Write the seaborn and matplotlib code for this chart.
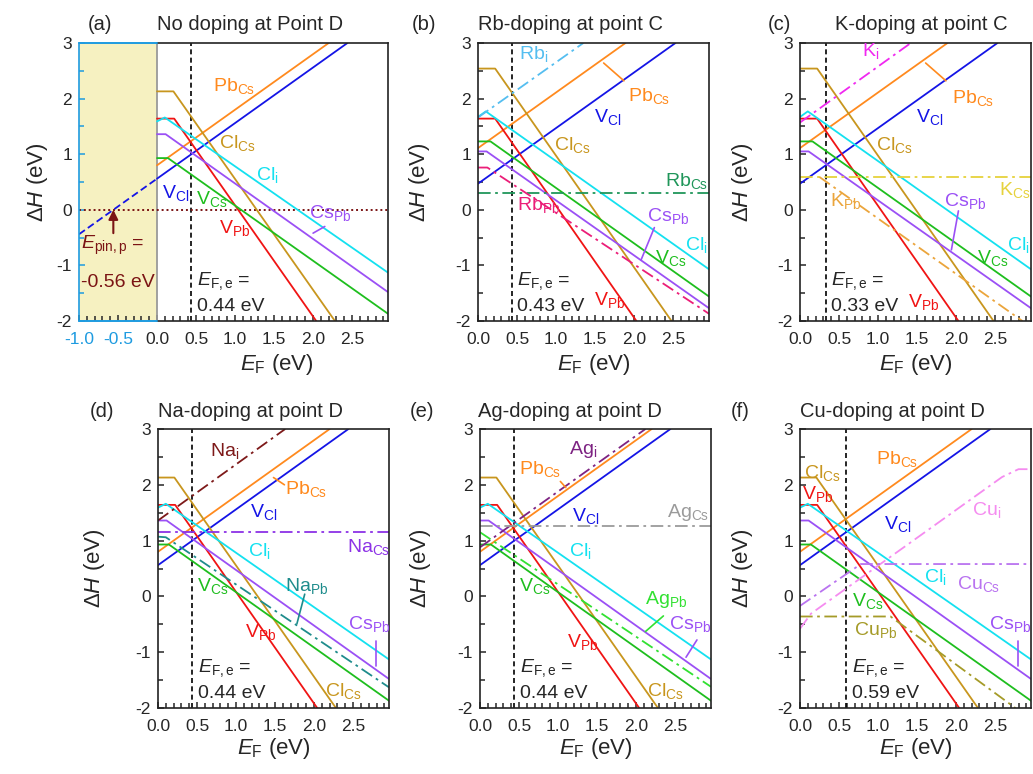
import numpy as np
import seaborn as sns
import matplotlib.pyplot as plt
from matplotlib.ticker import MultipleLocator, FormatStrFormatter

# ---- values: (E_F breakpoints, ΔH) in eV ----
GAP = 2.96

# intrinsic defects, chemical potential point D  (panels a, d, e, f)
D_VCl = ([0, 2.44], [0.56, 3.0])
D_PbCs = ([0, 2.20], [0.80, 3.0])
D_ClCs = ([0, 0.21, 2.28], [2.13, 2.13, -2.0])
D_VPb = ([0, 0.22, 2.04], [1.64, 1.64, -2.0])
D_Cli = ([0, 0.10, 2.96], [1.59, 1.66, -1.13])
D_CsPb = ([0, 0.11, 2.96], [1.36, 1.36, -1.48])
D_VCs = ([0, 0.14, 2.96], [0.93, 0.93, -1.87])
D_VCl_neg = ([-1.0, 0], [-0.44, 0.56])   # extrapolation into the VB

# intrinsic defects, chemical potential point C  (panels b, c)
C_VCl = ([0, 2.53], [0.47, 3.0])
C_PbCs = ([0, 1.89], [1.11, 3.0])
C_ClCs = ([0, 0.22, 2.48], [2.54, 2.54, -2.0])
C_VPb = ([0, 0.22, 2.03], [1.64, 1.64, -2.0])
C_Cli = ([0, 0.10, 2.96], [1.67, 1.77, -1.07])
C_CsPb = ([0, 0.11, 2.96], [1.05, 1.05, -1.77])
C_VCs = ([0, 0.16, 2.96], [1.23, 1.23, -1.56])

# dopants
Rb_i = ([0, 1.35], [1.66, 3.0])
Rb_Cs = ([0, 2.96], [0.31, 0.31])
Rb_Pb = ([0, 0.12, 2.96], [0.76, 0.76, -1.87])
K_i = ([0, 1.42], [1.57, 3.0])
K_Cs = ([0, 2.96], [0.59, 0.59])
K_Pb = ([0.25, 2.85], [0.59, -2.0])
Na_i = ([0, 1.63], [1.36, 3.0])
Na_Cs = ([0, 2.96], [1.16, 1.16])
Na_Pb = ([0, 0.10, 2.96], [1.07, 1.06, -1.63])
Ag_i = ([0, 2.12], [0.88, 3.0])
Ag_Cs = ([0, 2.96], [1.27, 1.27])
Ag_Pb = ([0, 2.96], [1.15, -1.62])
Cu_i = ([0, 0.14, 2.59, 2.80, 2.96], [-0.58, -0.31, 2.14, 2.28, 2.28])
Cu_Cs = ([0, 0.78, 2.96], [-0.17, 0.58, 0.58])
Cu_Pb = ([0, 1.16, 2.76], [-0.36, -0.36, -2.0])

# equilibrium Fermi levels and pinning level
EF_E = {'a': 0.44, 'b': 0.43, 'c': 0.33, 'd': 0.44, 'e': 0.44, 'f': 0.59}
E_PIN = -0.56

# ---- style ----
COL = {
    'VCl': '#1414E6', 'PbCs': '#FF8A1E', 'ClCs': '#C8961E', 'VPb': '#F01414',
    'Cli': '#14E1F0', 'CsPb': '#9B50F5', 'VCs': '#1EBE1E',
    'Rbi': '#55BEF0', 'RbCs': '#20965A', 'RbPb': '#EB1E78',
    'Ki': '#F028F0', 'KCs': '#E6D23C', 'KPb': '#EBA53C',
    'Nai': '#7D1919', 'NaCs': '#8C32E6', 'NaPb': '#1E8C8C',
    'Agi': '#7D2382', 'AgCs': '#9B9B9B', 'AgPb': '#32E132',
    'Cui': '#F58CF0', 'CuCs': '#B973F0', 'CuPb': '#A59B28',
}
BLUE = '#1E9BE0'
MAROON = '#7B1414'
LW = 1.3
DD = (0, (7, 2.5, 1.5, 2.5))  # dash-dot

sns.set_style('ticks')
plt.rcParams['font.family'] = ['Liberation Sans', 'DejaVu Sans']
plt.rcParams['mathtext.fontset'] = 'custom'
plt.rcParams['mathtext.rm'] = 'Liberation Sans'
plt.rcParams['mathtext.it'] = 'Liberation Sans:italic'
plt.rcParams['mathtext.default'] = 'regular'
plt.rcParams['axes.unicode_minus'] = False
plt.rcParams['axes.edgecolor'] = '#222222'
plt.rcParams['axes.linewidth'] = 1.2

W, H = 1033, 774
fig = plt.figure(figsize=(W / 100, H / 100), dpi=100)


def box(left, right, top, bottom):
    return [left / W, 1 - bottom / H, (right - left) / W, (bottom - top) / H]


def draw(ax, pts, key, ls='-'):
    sns.lineplot(x=pts[0], y=pts[1], ax=ax, color=COL[key], lw=LW, linestyle=ls,
                 sort=False, estimator=None, legend=False)


def lab(ax, txt, x, y, key, size=14):
    ax.text(x, y, txt, color=COL[key], fontsize=size, va='baseline', ha='left')


def leader(ax, xs, ys, key):
    ax.plot(xs, ys, color=COL[key], lw=1.2)


def setup(ax, xmin, ef, ylab_x, xlab_x, ytop):
    ax.set_xlim(xmin, GAP)
    ax.set_ylim(-2, 3)
    ax.set_xticks(np.arange(xmin, 2.51, 0.5))
    ax.set_xticks(np.arange(xmin, GAP, 0.1), minor=True)
    ax.xaxis.set_major_formatter(FormatStrFormatter('%.1f'))
    ax.yaxis.set_major_locator(MultipleLocator(1))
    ax.yaxis.set_minor_locator(MultipleLocator(0.5))
    ax.tick_params(which='both', direction='in', labelsize=12.5, width=1.1)
    ax.tick_params(axis='x', which='both', pad=8)
    ax.tick_params(axis='y', which='both', pad=5)
    ax.tick_params(which='major', length=4.5)
    ax.tick_params(which='minor', length=3.5)
    ax.set_xlabel(r'$\mathit{E}_{F}$ (eV)', fontsize=16)
    ax.set_ylabel(r'Δ$\mathit{H}$ (eV)', fontsize=16)
    ax.yaxis.set_label_coords(ylab_x, 0.5)
    ax.xaxis.set_label_coords(xlab_x, ytop)
    ax.axvline(ef, color='k', ls=(0, (3, 2)), lw=1.2, zorder=1.5)
    ax.text(ef + 0.07, -1.35, r'$\mathit{E}_{F,e}$ =', fontsize=14, va='baseline')
    ax.text(ef + 0.07, -1.82, f'{ef:.2f} eV', fontsize=14, va='baseline')


def titles(tag, tag_x, title, title_x, base_y):
    fig.text(tag_x / W, 1 - base_y / H, tag, fontsize=14.5, va='baseline')
    fig.text(title_x / W, 1 - base_y / H, title, fontsize=14.5, va='baseline')


# ---------- (a) ----------
ax = fig.add_axes(box(79, 388, 43, 321))
ax.axvspan(-1, 0, color='#F6F1C1', lw=0, zorder=0)
setup(ax, -1.0, EF_E['a'], -0.094, 0.64, -0.11)
ax.axvline(0, color='#9A9A9A', lw=1.3, zorder=1)
ax.axhline(0, color=MAROON, ls=(0, (1, 1.5)), lw=1.4, zorder=1.6)
draw(ax, D_VCl_neg, 'VCl', (0, (4, 2)))
for pts, key in [(D_VCl, 'VCl'), (D_PbCs, 'PbCs'), (D_ClCs, 'ClCs'), (D_VPb, 'VPb'),
                 (D_Cli, 'Cli'), (D_CsPb, 'CsPb'), (D_VCs, 'VCs')]:
    draw(ax, pts, key)
ax.annotate('', xy=(E_PIN, 0.0), xytext=(E_PIN, -0.42),
            arrowprops=dict(arrowstyle='-|>', color=MAROON, lw=1.5, mutation_scale=14,
                            shrinkA=0, shrinkB=0))
ax.text(-0.97, -0.70, r'$\mathit{E}_{pin,p}$ =', color=MAROON, fontsize=14, va='baseline')
ax.text(-0.97, -1.38, f'{E_PIN:.2f} eV', color=MAROON, fontsize=14, va='baseline')
ax.spines['left'].set_color(BLUE)
ax.spines['top'].set_bounds(0, GAP)
ax.spines['bottom'].set_bounds(0, GAP)
for yy in (3, -2):
    ax.axhline(yy, xmin=0, xmax=1 / (GAP + 1), color=BLUE, lw=1.4, clip_on=False, zorder=3)
ax.tick_params(axis='y', which='both', color=BLUE)
fig.canvas.draw()
for t, loc in zip(ax.xaxis.get_major_ticks(), ax.get_xticks()):
    if loc < -1e-6:
        t.label1.set_color(BLUE)
        t.tick1line.set_color(BLUE)
for t, loc in zip(ax.xaxis.get_minor_ticks(), ax.get_xticks(minor=True)):
    if loc < -1e-6:
        t.tick1line.set_color(BLUE)
for txt, x, y, k in [('Pb$_{Cs}$', 0.72, 2.13, 'PbCs'), ('Cl$_{Cs}$', 0.80, 1.11, 'ClCs'),
                     ('Cl$_i$', 1.27, 0.54, 'Cli'), ('V$_{Cl}$', 0.06, 0.21, 'VCl'),
                     ('V$_{Cs}$', 0.50, 0.10, 'VCs'), ('V$_{Pb}$', 0.79, -0.42, 'VPb'),
                     ('Cs$_{Pb}$', 1.95, -0.15, 'CsPb')]:
    lab(ax, txt, x, y, k)
leader(ax, [2.0, 2.15], [-0.42, -0.30], 'CsPb')
titles('(a)', 88, 'No doping at Point D', 157, 30)

# ---------- (b) ----------
ax = fig.add_axes(box(478, 709, 43, 321))
setup(ax, 0.0, EF_E['b'], -0.199, 0.5, -0.11)
for pts, key in [(C_VCl, 'VCl'), (C_PbCs, 'PbCs'), (C_ClCs, 'ClCs'), (C_VPb, 'VPb'),
                 (C_Cli, 'Cli'), (C_CsPb, 'CsPb'), (C_VCs, 'VCs')]:
    draw(ax, pts, key)
draw(ax, Rb_i, 'Rbi', DD)
draw(ax, Rb_Cs, 'RbCs', DD)
draw(ax, Rb_Pb, 'RbPb', DD)
for txt, x, y, k in [('Rb$_i$', 0.53, 2.72, 'Rbi'), ('Pb$_{Cs}$', 1.92, 1.95, 'PbCs'),
                     ('V$_{Cl}$', 1.49, 1.58, 'VCl'), ('Cl$_{Cs}$', 0.97, 1.07, 'ClCs'),
                     ('Rb$_{Cs}$', 2.40, 0.42, 'RbCs'), ('Rb$_{Pb}$', 0.50, 0.0, 'RbPb'),
                     ('Cs$_{Pb}$', 2.17, -0.21, 'CsPb'), ('Cl$_i$', 2.65, -0.72, 'Cli'),
                     ('V$_{Cs}$', 2.27, -0.95, 'VCs'), ('V$_{Pb}$', 1.49, -1.71, 'VPb')]:
    lab(ax, txt, x, y, k)
leader(ax, [1.61, 1.87], [2.64, 2.32], 'PbCs')
leader(ax, [2.26, 2.09], [-0.32, -0.90], 'CsPb')
titles('(b)', 412, 'Rb-doping at point C', 478, 30)

# ---------- (c) ----------
ax = fig.add_axes(box(800, 1031, 43, 321))
setup(ax, 0.0, EF_E['c'], -0.195, 0.5, -0.11)
for pts, key in [(C_VCl, 'VCl'), (C_PbCs, 'PbCs'), (C_ClCs, 'ClCs'), (C_VPb, 'VPb'),
                 (C_Cli, 'Cli'), (C_CsPb, 'CsPb'), (C_VCs, 'VCs')]:
    draw(ax, pts, key)
draw(ax, K_i, 'Ki', DD)
draw(ax, K_Cs, 'KCs', DD)
draw(ax, K_Pb, 'KPb', DD)
for txt, x, y, k in [('K$_i$', 0.80, 2.76, 'Ki'), ('Pb$_{Cs}$', 1.95, 1.92, 'PbCs'),
                     ('V$_{Cl}$', 1.49, 1.58, 'VCl'), ('Cl$_{Cs}$', 0.97, 1.07, 'ClCs'),
                     ('K$_{Cs}$', 2.55, 0.27, 'KCs'), ('K$_{Pb}$', 0.39, 0.06, 'KPb'),
                     ('Cs$_{Pb}$', 1.84, 0.06, 'CsPb'), ('Cl$_i$', 2.65, -0.72, 'Cli'),
                     ('V$_{Cs}$', 2.27, -0.95, 'VCs'), ('V$_{Pb}$', 1.39, -1.74, 'VPb')]:
    lab(ax, txt, x, y, k)
leader(ax, [1.61, 1.87], [2.64, 2.32], 'PbCs')
leader(ax, [2.03, 1.94], [-0.02, -0.72], 'CsPb')
titles('(c)', 768, 'K-doping at point C', 835, 30)

# ---------- (d) ----------
ax = fig.add_axes(box(158, 389, 429, 708))
setup(ax, 0.0, EF_E['d'], -0.22, 0.5, -0.1)
for pts, key in [(D_VCl, 'VCl'), (D_PbCs, 'PbCs'), (D_ClCs, 'ClCs'), (D_VPb, 'VPb'),
                 (D_Cli, 'Cli'), (D_CsPb, 'CsPb'), (D_VCs, 'VCs')]:
    draw(ax, pts, key)
draw(ax, Na_i, 'Nai', DD)
draw(ax, Na_Cs, 'NaCs', DD)
draw(ax, Na_Pb, 'NaPb', DD)
for txt, x, y, k in [('Na$_i$', 0.66, 2.52, 'Nai'), ('Pb$_{Cs}$', 1.63, 1.84, 'PbCs'),
                     ('V$_{Cl}$', 1.18, 1.42, 'VCl'), ('Na$_{Cs}$', 2.42, 0.79, 'NaCs'),
                     ('Cl$_i$', 1.15, 0.73, 'Cli'), ('Na$_{Pb}$', 1.63, 0.10, 'NaPb'),
                     ('V$_{Cs}$', 0.50, 0.10, 'VCs'), ('V$_{Pb}$', 1.12, -0.73, 'VPb'),
                     ('Cs$_{Pb}$', 2.44, -0.58, 'CsPb'), ('Cl$_{Cs}$', 2.14, -1.78, 'ClCs')]:
    lab(ax, txt, x, y, k)
leader(ax, [1.48, 1.62], [2.13, 2.00], 'PbCs')
leader(ax, [1.88, 1.78], [0.04, -0.49], 'NaPb')
leader(ax, [2.79, 2.79], [-0.80, -1.25], 'CsPb')
titles('(d)', 90, 'Na-doping at point D', 158, 417)

# ---------- (e) ----------
ax = fig.add_axes(box(480, 711, 429, 708))
setup(ax, 0.0, EF_E['e'], -0.203, 0.5, -0.1)
for pts, key in [(D_VCl, 'VCl'), (D_PbCs, 'PbCs'), (D_ClCs, 'ClCs'), (D_VPb, 'VPb'),
                 (D_Cli, 'Cli'), (D_CsPb, 'CsPb'), (D_VCs, 'VCs')]:
    draw(ax, pts, key)
draw(ax, Ag_i, 'Agi', DD)
draw(ax, Ag_Cs, 'AgCs', DD)
draw(ax, Ag_Pb, 'AgPb', DD)
for txt, x, y, k in [('Ag$_i$', 1.14, 2.55, 'Agi'), ('Pb$_{Cs}$', 0.50, 2.19, 'PbCs'),
                     ('V$_{Cl}$', 1.18, 1.36, 'VCl'), ('Ag$_{Cs}$', 2.40, 1.42, 'AgCs'),
                     ('Cl$_i$', 1.14, 0.73, 'Cli'), ('V$_{Cs}$', 0.50, 0.10, 'VCs'),
                     ('Ag$_{Pb}$', 2.11, -0.14, 'AgPb'), ('Cs$_{Pb}$', 2.42, -0.58, 'CsPb'),
                     ('V$_{Pb}$', 1.12, -0.91, 'VPb'), ('Cl$_{Cs}$', 2.14, -1.78, 'ClCs')]:
    lab(ax, txt, x, y, k)
leader(ax, [1.03, 1.10], [2.06, 1.95], 'PbCs')
leader(ax, [2.35, 2.12], [-0.35, -0.63], 'AgPb')
leader(ax, [2.78, 2.64], [-0.78, -1.09], 'CsPb')
titles('(e)', 410, 'Ag-doping at point D', 478, 417)

# ---------- (f) ----------
ax = fig.add_axes(box(800, 1031, 429, 708))
setup(ax, 0.0, EF_E['f'], -0.195, 0.5, -0.1)
for pts, key in [(D_VCl, 'VCl'), (D_PbCs, 'PbCs'), (D_ClCs, 'ClCs'), (D_VPb, 'VPb'),
                 (D_Cli, 'Cli'), (D_CsPb, 'CsPb'), (D_VCs, 'VCs')]:
    draw(ax, pts, key)
draw(ax, Cu_i, 'Cui', DD)
draw(ax, Cu_Cs, 'CuCs', DD)
draw(ax, Cu_Pb, 'CuPb', DD)
for txt, x, y, k in [('Cl$_{Cs}$', 0.05, 2.13, 'ClCs'), ('V$_{Pb}$', 0.03, 1.75, 'VPb'),
                     ('Pb$_{Cs}$', 0.97, 2.37, 'PbCs'), ('V$_{Cl}$', 1.07, 1.21, 'VCl'),
                     ('Cu$_i$', 2.20, 1.45, 'Cui'), ('Cl$_i$', 1.59, 0.25, 'Cli'),
                     ('Cu$_{Cs}$', 2.01, 0.13, 'CuCs'), ('V$_{Cs}$', 0.67, -0.17, 'VCs'),
                     ('Cu$_{Pb}$', 0.69, -0.70, 'CuPb'), ('Cs$_{Pb}$', 2.42, -0.58, 'CsPb')]:
    lab(ax, txt, x, y, k)
leader(ax, [2.79, 2.79], [-0.80, -1.25], 'CsPb')
titles('(f)', 731, 'Cu-doping at point D', 800, 417)

fig.savefig('out.png', dpi=100)
